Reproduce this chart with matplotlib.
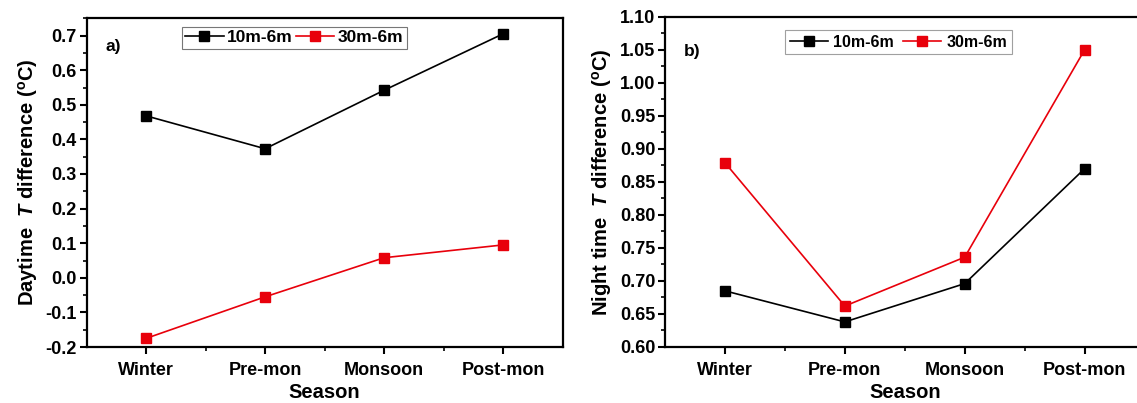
import numpy as np
import matplotlib
matplotlib.use("Agg")
import matplotlib.pyplot as plt
from matplotlib.ticker import MultipleLocator, FixedLocator

plt.rcParams['font.family'] = ['Liberation Sans', 'DejaVu Sans']
plt.rcParams['font.weight'] = 'bold'
plt.rcParams['mathtext.fontset'] = 'custom'
plt.rcParams['mathtext.it'] = 'Liberation Sans:italic:bold'
plt.rcParams['mathtext.rm'] = 'Liberation Sans:bold'

seasons = ["Winter", "Pre-mon", "Monsoon", "Post-mon"]
series_names = ["10m-6m", "30m-6m"]
colors = ["black", "#e8000b"]

day_10_6 = [0.468, 0.373, 0.542, 0.705]
day_30_6 = [-0.175, -0.055, 0.058, 0.095]

night_10_6 = [0.685, 0.638, 0.696, 0.870]
night_30_6 = [0.879, 0.662, 0.736, 1.050]

W, H = 1137, 403
fig = plt.figure(figsize=(W / 100, H / 100), dpi=100)

# axes boxes in pixels: left, top, right, bottom
ax1 = fig.add_axes([86.7 / W, 1 - 347 / H, (562.5 - 86.7) / W, (347 - 18.3) / H])
ax2 = fig.add_axes([665 / W, 1 - 347 / H, (1144.6 - 665) / W, (347 - 16.7) / H])


def style_axis(ax, ylim, major, minor, fmt):
    x = np.arange(len(seasons))
    ax.set_xlim(-0.5, 3.5)
    ax.set_ylim(*ylim)
    ax.set_xticks(x)
    ax.set_xticklabels(seasons)
    ax.xaxis.set_minor_locator(FixedLocator(x[:-1] + 0.5))
    ax.yaxis.set_major_locator(MultipleLocator(major))
    ax.yaxis.set_minor_locator(MultipleLocator(minor))
    ax.yaxis.set_major_formatter(plt.FormatStrFormatter(fmt))
    ax.tick_params(which='major', direction='out', length=5, width=1.5, labelsize=13)
    ax.tick_params(which='minor', direction='out', length=3, width=1.2)
    ax.tick_params(axis='x', pad=6)
    ax.tick_params(axis='y', pad=2)
    for s in ax.spines.values():
        s.set_linewidth(1.6)
    ax.set_xlabel("Season", fontsize=14.5, fontweight='bold', labelpad=3)


x = np.arange(len(seasons))

# panel a
ax1.plot(x, day_10_6, color=colors[0], marker='s', markersize=7.5, lw=1.2, label=series_names[0])
ax1.plot(x, day_30_6, color=colors[1], marker='s', markersize=7.5, lw=1.2, label=series_names[1])
style_axis(ax1, (-0.2, 0.75), 0.1, 0.05, '%.1f')
ax1.set_ylabel(r"Daytime  $\mathit{T}$ difference ($\mathrm{^{o}}$C)", fontsize=14.5, fontweight='bold', labelpad=4)
ax1.text(0.04, 0.9, "a)", transform=ax1.transAxes, fontsize=12.5, fontweight='bold')
leg1 = ax1.legend(loc='upper left', bbox_to_anchor=(0.2, 0.975), ncol=2, fontsize=12.5,
                  frameon=True, fancybox=False, edgecolor='#555555', handlelength=2.2,
                  handletextpad=0.2, columnspacing=0.2, borderpad=0.2, borderaxespad=0)
leg1.get_frame().set_linewidth(0.8)

# panel b
ax2.plot(x, night_10_6, color=colors[0], marker='s', markersize=7.5, lw=1.2, label=series_names[0])
ax2.plot(x, night_30_6, color=colors[1], marker='s', markersize=7.5, lw=1.2, label=series_names[1])
style_axis(ax2, (0.60, 1.10), 0.05, 0.025, '%.2f')
ax2.set_ylabel(r"Night time  $\mathit{T}$ difference ($\mathrm{^{o}}$C)", fontsize=14.5, fontweight='bold', labelpad=4)
ax2.text(0.04, 0.88, "b)", transform=ax2.transAxes, fontsize=12.5, fontweight='bold')
leg2 = ax2.legend(loc='upper left', bbox_to_anchor=(0.25, 0.96), ncol=2, fontsize=11.5,
                  frameon=True, fancybox=False, edgecolor='#888888', handlelength=2.4,
                  handletextpad=0.3, columnspacing=0.6, borderpad=0.3, borderaxespad=0)
leg2.get_frame().set_linewidth(0.8)

fig.savefig("out.png", dpi=100)
